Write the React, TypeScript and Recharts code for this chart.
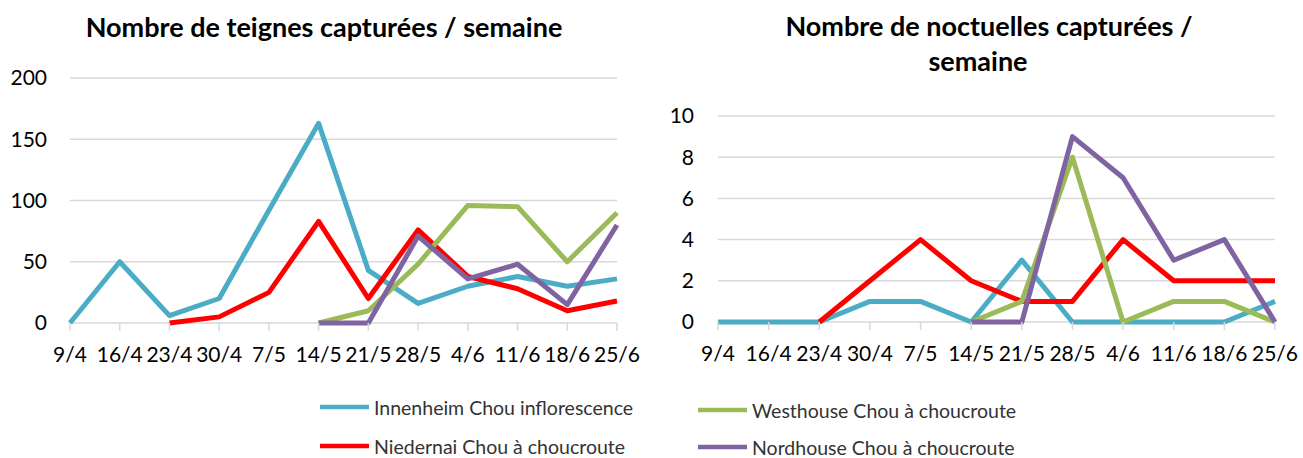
import React from 'react';
import { LineChart, Line, XAxis, YAxis, CartesianGrid } from 'recharts';

const categories = ['9/4', '16/4', '23/4', '30/4', '7/5', '14/5', '21/5', '28/5', '4/6', '11/6', '18/6', '25/6'];

const teignesInnenheim = [0, 50, 6, 20, 92, 163, 43, 16, 30, 38, 30, 36];
const teignesNiedernai = [null, null, 0, 5, 25, 83, 20, 76, 38, 28, 10, 18];
const teignesWesthouse = [null, null, null, null, null, 0, 10, 48, 96, 95, 50, 90];
const teignesNordhouse = [null, null, null, null, null, 0, 0, 71, 36, 48, 15, 80];

const noctInnenheim = [0, 0, 0, 1, 1, 0, 3, 0, 0, 0, 0, 1];
const noctNiedernai = [null, null, 0, 2, 4, 2, 1, 1, 4, 2, 2, 2];
const noctWesthouse = [null, null, null, null, null, 0, 1, 8, 0, 1, 1, 0];
const noctNordhouse = [null, null, null, null, null, 0, 0, 9, 7, 3, 4, 0];

const teignesTicks = [0, 50, 100, 150, 200];
const noctTicks = [0, 2, 4, 6, 8, 10];

const seriesNames = [
  'Innenheim Chou inflorescence',
  'Niedernai Chou à choucroute',
  'Westhouse Chou à choucroute',
  'Nordhouse Chou à choucroute',
];
const seriesColors = ['#4bacc6', '#ff0000', '#9bbb59', '#8064a2'];

const titleLeft = 'Nombre de teignes capturées / semaine';
const titleRight1 = 'Nombre de noctuelles capturées /';
const titleRight2 = 'semaine';

const FONT = 'Lato, "Open Sans", sans-serif';

const teignesData = categories.map((c, i) => ({
  cat: c,
  s0: teignesInnenheim[i],
  s1: teignesNiedernai[i],
  s2: teignesWesthouse[i],
  s3: teignesNordhouse[i],
}));
const noctData = categories.map((c, i) => ({
  cat: c,
  s0: noctInnenheim[i],
  s1: noctNiedernai[i],
  s2: noctWesthouse[i],
  s3: noctNordhouse[i],
}));

const tickStyle = { fill: '#000', fontSize: 21, fontFamily: FONT };

function renderLines() {
  return ['s0', 's1', 's2', 's3'].map((k, i) => (
    <Line
      key={k}
      type="linear"
      dataKey={k}
      stroke={seriesColors[i]}
      strokeWidth={5}
      dot={false}
      activeDot={false}
      isAnimationActive={false}
      connectNulls={false}
      strokeLinejoin="round"
    />
  ));
}

export default function App() {
  const legendItems = [
    { x: 320, y: 407, i: 0 },
    { x: 320, y: 446, i: 1 },
    { x: 698, y: 410, i: 2 },
    { x: 698, y: 447, i: 3 },
  ];
  return (
    <div style={{ position: 'absolute', left: 0, top: 0, width: 1303, height: 458, background: '#fff', overflow: 'hidden' }}>
      <div style={{ position: 'absolute', left: 0, top: 0 }}>
        <LineChart width={660} height={390} data={teignesData} margin={{ top: 78, right: 43, left: 0, bottom: 0 }}>
          <CartesianGrid vertical={false} stroke="#d9d9d9" strokeWidth={1.5} />
          <XAxis
            dataKey="cat"
            scale="point"
            padding={{ left: 0, right: 0 }}
            interval={0}
            height={67}
            tick={tickStyle}
            tickSize={8}
            tickMargin={16}
            axisLine={false}
            tickLine={{ stroke: '#d9d9d9', strokeWidth: 1.5 }}
          />
          <YAxis
            domain={[0, 200]}
            ticks={teignesTicks}
            width={70}
            tick={tickStyle}
            tickSize={0}
            tickMargin={23}
            axisLine={false}
            tickLine={false}
          />
          {renderLines()}
        </LineChart>
      </div>
      <div style={{ position: 'absolute', left: 660, top: 0 }}>
        <LineChart width={643} height={390} data={noctData} margin={{ top: 116, right: 28, left: 0, bottom: 0 }}>
          <CartesianGrid vertical={false} stroke="#d9d9d9" strokeWidth={1.5} />
          <XAxis
            dataKey="cat"
            scale="point"
            padding={{ left: 0, right: 0 }}
            interval={0}
            height={68}
            tick={tickStyle}
            tickSize={8}
            tickMargin={16}
            axisLine={false}
            tickLine={{ stroke: '#d9d9d9', strokeWidth: 1.5 }}
          />
          <YAxis
            domain={[0, 10]}
            ticks={noctTicks}
            width={58}
            tick={tickStyle}
            tickSize={0}
            tickMargin={24}
            axisLine={false}
            tickLine={false}
          />
          {renderLines()}
        </LineChart>
      </div>
      <svg width={1303} height={458} style={{ position: 'absolute', left: 0, top: 0, pointerEvents: 'none' }}>
        <text x={324} y={37} textAnchor="middle" fontFamily={FONT} fontWeight="bold" fontSize={27} fill="#000">
          {titleLeft}
        </text>
        <text x={989} y={36} textAnchor="middle" fontFamily={FONT} fontWeight="bold" fontSize={27} fill="#000">
          {titleRight1}
        </text>
        <text x={978} y={71} textAnchor="middle" fontFamily={FONT} fontWeight="bold" fontSize={27} fill="#000">
          {titleRight2}
        </text>
        {legendItems.map((it) => (
          <g key={it.i}>
            <line x1={it.x} x2={it.x + 49} y1={it.y} y2={it.y} stroke={seriesColors[it.i]} strokeWidth={4.5} />
            <text x={it.x + 54} y={it.y} dominantBaseline="central" fontFamily={FONT} fontSize={19.5} fill="#333">
              {seriesNames[it.i]}
            </text>
          </g>
        ))}
      </svg>
    </div>
  );
}
